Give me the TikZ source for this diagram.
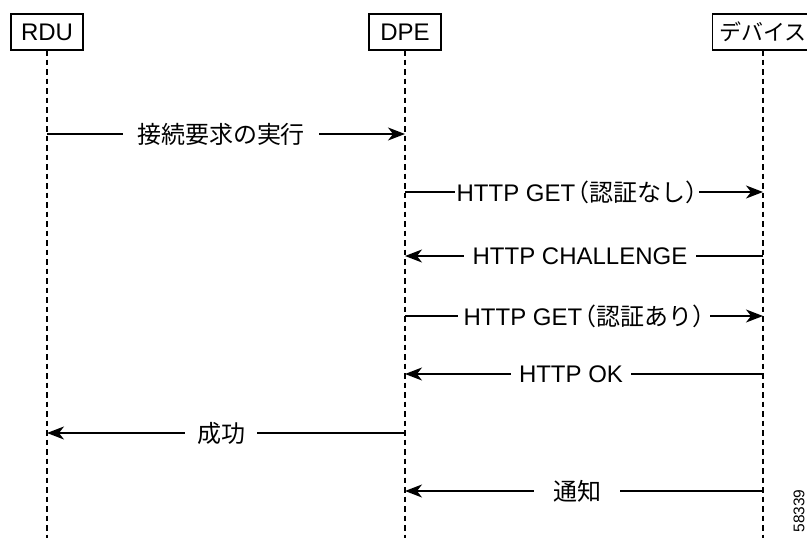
\documentclass[tikz,border=0pt]{standalone}
\usepackage{fontspec}
\setmainfont{Liberation Sans}
\newfontfamily\jp{Noto Sans CJK JP}
\newfontfamily\jphalf[CharacterWidth=AlternateHalf]{Noto Sans CJK JP}
\usetikzlibrary{arrows.meta}
\begin{document}
\begin{tikzpicture}[x=1pt,y=-1pt, font=\fontsize{24}{28}\selectfont,
 actor/.style={draw, line width=1.1pt, minimum height=36pt, inner sep=0pt, minimum width=72pt},
 life/.style={dash pattern=on 5.5pt off 4pt, line width=1.2pt},
 msg/.style={line width=1.3pt, -{Stealth[length=17pt,width=13pt,inset=5pt]}},
 lbl/.style={fill=white, inner xsep=10pt, inner ysep=2pt}]
\useasboundingbox (0,0) rectangle (807,538);
% actors
\node[actor] (rdu) at (47,32) {RDU};
\node[actor] (dpe) at (405,32) {DPE};
\node[actor, anchor=west, minimum width=0pt, inner xsep=7pt, font=\fontsize{22}{26}\selectfont] (dev) at (712,32) {\jp デバイス};
% lifelines
\coordinate (rduTop) at (47,50);
\coordinate (dpeTop) at (405,50);
\coordinate (devTop) at (763,50);
\coordinate (rduEnd) at (47,538);
\coordinate (dpeEnd) at (405,538);
\coordinate (devEnd) at (763,538);
\draw[life] (rduTop) -- (rduEnd);
\draw[life] (dpeTop) -- (dpeEnd);
\draw[life] (devTop) -- (devEnd);
% message coordinates
\foreach \n/\y in {1/134,2/192,3/256,4/316,5/374,6/433,7/491}{
  \coordinate (r\n) at (47,\y);
  \coordinate (p\n) at (405,\y);
  \coordinate (d\n) at (763,\y);
}
% messages
\draw[msg] (r1) -- (p1);
\node[lbl, inner xsep=14pt] (m1) at (221,134) {\jp 接続要求の実行};
\draw[msg] (p2) -- (d2);
\node[lbl, inner xsep=2pt] (m2) at (577,192) {HTTP GET\hspace{2pt}{\jphalf （}{\jp 認証なし}{\jphalf ）}};
\draw[msg] (d3) -- (p3);
\node[lbl, inner xsep=9pt] (m3) at (580,256) {HTTP CHALLENGE};
\draw[msg] (p4) -- (d4);
\node[lbl, inner xsep=6pt] (m4) at (584,316) {HTTP GET\hspace{2pt}{\jphalf （}{\jp 認証あり}{\jphalf ）}};
\draw[msg] (d5) -- (p5);
\node[lbl, inner xsep=8pt] (m5) at (571,374) {HTTP OK};
\draw[msg] (p6) -- (r6);
\node[lbl, inner xsep=12pt] (m6) at (221,433) {\jp 成功};
\draw[msg] (d7) -- (p7);
\node[lbl, inner xsep=19pt] (m7) at (577,491) {\jp 通知};
% figure id
\node[rotate=90, font=\fontsize{15.5}{18}\selectfont, inner sep=0pt] (id) at (799,511) {58339};
\end{tikzpicture}
\end{document}
